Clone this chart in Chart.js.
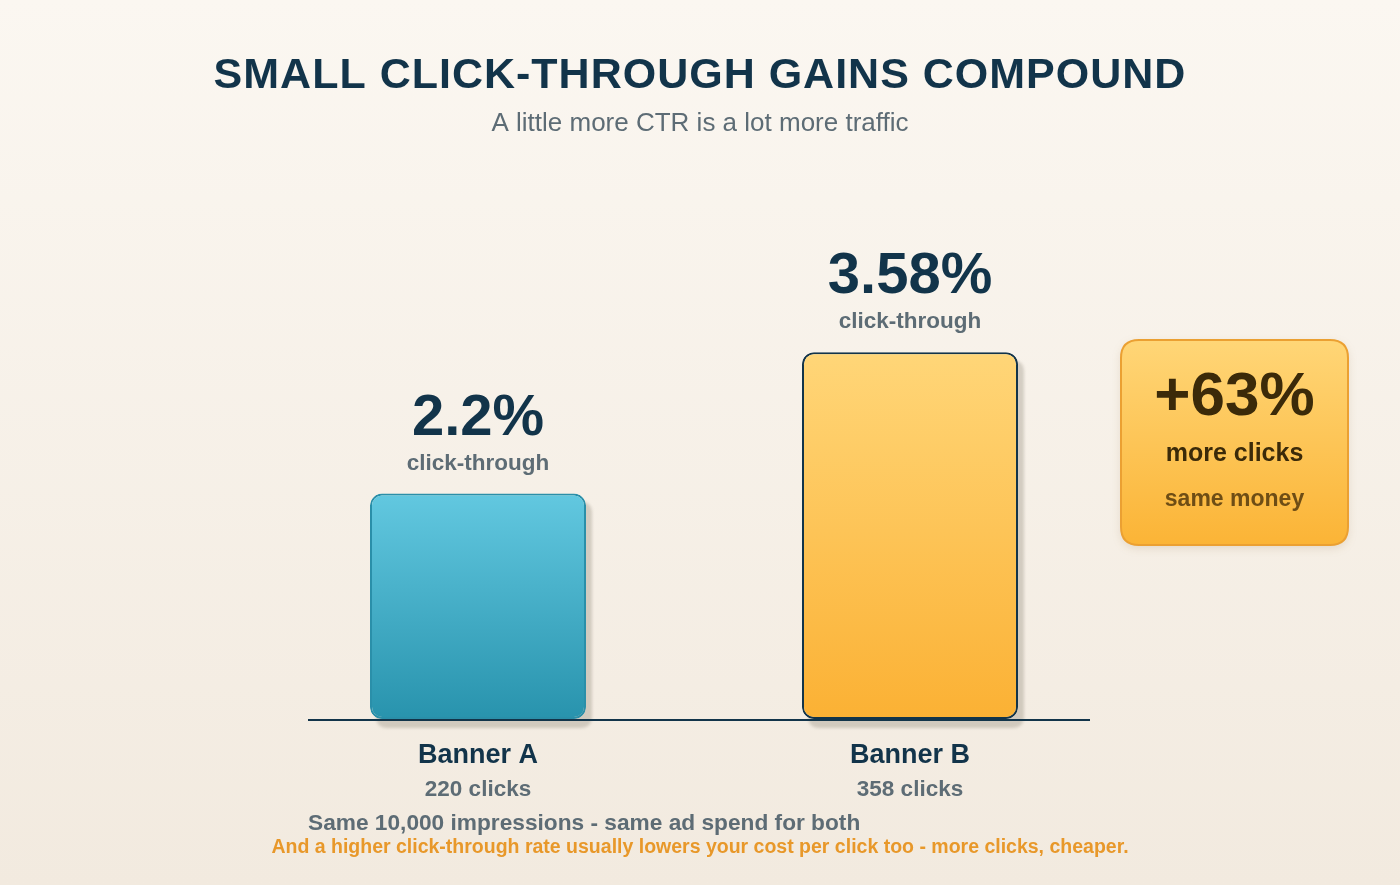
<!DOCTYPE html>
<html>
<head>
<meta charset="utf-8">
<script src="https://cdn.jsdelivr.net/npm/chart.js@4.4.1/dist/chart.umd.min.js"></script>
<style>
  html, body { margin: 0; padding: 0; }
  body { width: 1400px; height: 885px; overflow: hidden;
         background: linear-gradient(180deg, #fbf7f1 0%, #f2eadf 100%); }
  #wrap { position: relative; width: 1400px; height: 885px; }
  canvas { display: block; }
</style>
</head>
<body>
<div id="wrap"><canvas id="c" width="1400" height="885"></canvas></div>
<script>
// ---- data ----
const categories = ['Banner A', 'Banner B'];
const ctrValues = [2.2, 3.58];
const clickCounts = [220, 358];
const valueLabels = ['2.2%', '3.58%'];
const valueSubLabel = 'click-through';
const clickLabels = ['220 clicks', '358 clicks'];
const titleText = 'SMALL CLICK-THROUGH GAINS COMPOUND';
const subtitleText = 'A little more CTR is a lot more traffic';
const calloutLines = ['+63%', 'more clicks', 'same money'];
const footerLines = ['Same 10,000 impressions - same ad spend for both',
  'And a higher click-through rate usually lowers your cost per click too - more clicks, cheaper.'];

const FONT = '"Liberation Sans", Arial, Helvetica, sans-serif';
const NAVY = '#12344a';
const GREY = '#5d6c75';

const gradStops = [['#62c8e0', '#2893ad'], ['#ffd678', '#fbb134']];
const borderCols = ['#2a8fa9', '#12344a'];

function barGradient(ctx) {
  const chart = ctx.chart;
  const i = ctx.dataIndex;
  if (!chart.chartArea || !chart.scales.y) return gradStops[i][1];
  const ys = chart.scales.y;
  const top = ys.getPixelForValue(ctrValues[i]);
  const bottom = ys.getPixelForValue(0);
  const g = chart.ctx.createLinearGradient(0, top, 0, bottom);
  g.addColorStop(0, gradStops[i][0]);
  g.addColorStop(1, gradStops[i][1]);
  return g;
}

function roundRect(ctx, x, y, w, h, r) {
  ctx.beginPath();
  ctx.moveTo(x + r, y);
  ctx.lineTo(x + w - r, y);
  ctx.quadraticCurveTo(x + w, y, x + w, y + r);
  ctx.lineTo(x + w, y + h - r);
  ctx.quadraticCurveTo(x + w, y + h, x + w - r, y + h);
  ctx.lineTo(x + r, y + h);
  ctx.quadraticCurveTo(x, y + h, x, y + h - r);
  ctx.lineTo(x, y + r);
  ctx.quadraticCurveTo(x, y, x + r, y);
  ctx.closePath();
}

const shadowPlugin = {
  id: 'barShadow',
  beforeDatasetsDraw(chart) {
    const ctx = chart.ctx;
    const meta = chart.getDatasetMeta(0);
    ctx.save();
    ctx.filter = 'blur(1.5px)';
    ctx.fillStyle = 'rgba(100,92,75,0.24)';
    meta.data.forEach(bar => {
      const w = bar.width;
      roundRect(ctx, bar.x - w / 2 + 6, bar.y + 8, w, bar.base - bar.y + 1, 12);
      ctx.fill();
    });
    ctx.restore();
  }
};

const decorPlugin = {
  id: 'decor',
  afterDraw(chart) {
    const ctx = chart.ctx;
    const xs = chart.scales.x, ys = chart.scales.y;
    const meta = chart.getDatasetMeta(0);
    const base = ys.getPixelForValue(0);

    ctx.save();
    // baseline axis
    ctx.strokeStyle = NAVY;
    ctx.lineWidth = 2;
    ctx.beginPath();
    ctx.moveTo(xs.left + 46, base + 1);
    ctx.lineTo(xs.right - 36, base + 1);
    ctx.stroke();

    ctx.textAlign = 'center';
    ctx.textBaseline = 'middle';

    // title / subtitle
    ctx.fillStyle = NAVY;
    ctx.font = 'bold 43px ' + FONT;
    ctx.letterSpacing = '1px';
    ctx.fillText(titleText, 700, 76);
    ctx.letterSpacing = '0px';
    ctx.fillStyle = GREY;
    ctx.font = '26px ' + FONT;
    ctx.fillText(subtitleText, 700, 124);

    // bar labels
    meta.data.forEach((bar, i) => {
      const x = bar.x, top = bar.y;
      ctx.fillStyle = NAVY;
      ctx.font = 'bold 58px ' + FONT;
      ctx.fillText(valueLabels[i], x, top - 75);
      ctx.fillStyle = GREY;
      ctx.font = 'bold 22.5px ' + FONT;
      ctx.fillText(valueSubLabel, x, top - 30);
      // category labels
      ctx.fillStyle = NAVY;
      ctx.font = 'bold 27px ' + FONT;
      ctx.fillText(categories[i], x, base + 37);
      ctx.fillStyle = GREY;
      ctx.font = 'bold 22.5px ' + FONT;
      ctx.fillText(clickLabels[i], x, base + 71);
    });

    // footer
    ctx.textAlign = 'left';
    ctx.fillStyle = GREY;
    ctx.font = 'bold 22.7px ' + FONT;
    ctx.fillText(footerLines[0], xs.left + 46, 824);
    ctx.textAlign = 'center';
    ctx.fillStyle = '#e8982a';
    ctx.font = 'bold 19.5px ' + FONT;
    ctx.fillText(footerLines[1], 700, 848);

    // callout box
    const bx = 1121, by = 340, bw = 227, bh = 205;
    ctx.save();
    ctx.shadowColor = 'rgba(120,80,20,0.15)';
    ctx.shadowBlur = 10;
    ctx.shadowOffsetY = 3;
    const g = ctx.createLinearGradient(0, by, 0, by + bh);
    g.addColorStop(0, '#ffd677');
    g.addColorStop(1, '#fbb436');
    roundRect(ctx, bx, by, bw, bh, 18);
    ctx.fillStyle = g;
    ctx.fill();
    ctx.restore();
    roundRect(ctx, bx, by, bw, bh, 18);
    ctx.strokeStyle = '#eba032';
    ctx.lineWidth = 2;
    ctx.stroke();

    const cx = bx + bw / 2;
    ctx.fillStyle = '#3b2a09';
    ctx.font = 'bold 62px ' + FONT;
    ctx.fillText(calloutLines[0], cx, 398);
    ctx.font = 'bold 25px ' + FONT;
    ctx.fillText(calloutLines[1], cx, 454);
    ctx.fillStyle = '#6e4d15';
    ctx.font = 'bold 23px ' + FONT;
    ctx.fillText(calloutLines[2], cx, 500);
    ctx.restore();
  }
};

new Chart(document.getElementById('c'), {
  type: 'bar',
  data: {
    labels: categories,
    datasets: [{
      data: ctrValues,
      backgroundColor: barGradient,
      borderColor: borderCols,
      borderWidth: 2,
      borderRadius: 12,
      borderSkipped: false,
      barPercentage: 1,
      categoryPercentage: 0.5,
      clip: false
    }]
  },
  options: {
    responsive: false,
    animation: false,
    layout: { padding: { left: 262, right: 274, top: 258, bottom: 166 } },
    scales: {
      x: { display: false, offset: true },
      y: { display: false, min: 0, max: 4.5 }
    },
    plugins: { legend: { display: false }, tooltip: { enabled: false } },
    events: []
  },
  plugins: [shadowPlugin, decorPlugin]
});
</script>
</body>
</html>
